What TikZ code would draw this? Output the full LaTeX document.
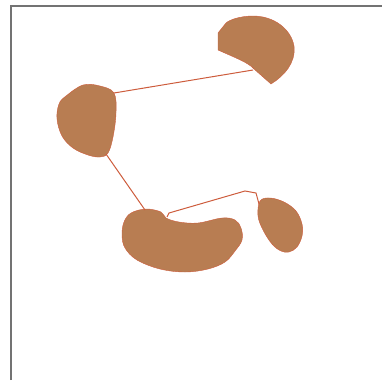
\documentclass[tikz,border=0pt]{standalone}
\usetikzlibrary{calc}
\definecolor{blobfill}{RGB}{184,125,82}
\definecolor{blobedge}{RGB}{205,92,60}
\tikzstyle{blob}=[fill=blobfill,draw=blobedge,line width=0.4pt]
\tikzstyle{link}=[draw=blobedge,line width=1pt]
\tikzstyle{frame}=[draw=gray!90!black,line width=2pt]
\begin{document}
\begin{tikzpicture}[x=1pt,y=-1pt]
	\useasboundingbox (0,0) rectangle (382,380);
	\draw[frame] (11,380) -- (11,6) -- (382,6);
	% pieces
	\draw[blob] (218,33) -- (218,50) .. controls (236,58) and (249,63) .. (254,69)
		-- (271,84) .. controls (284,76) and (296,63) .. (294,46)
		.. controls (291,29) and (274,16) .. (253,16) .. controls (240,16) and (229,20) .. (226,23) -- cycle;
	\draw[blob] plot[smooth cycle,tension=0.6] coordinates {(83,85) (100,86) (114,93) (116,113) (113,137) (108,153) (100,157) (88,155) (73,148) (62,136) (57,119) (59,104) (66,96)};
	\draw[blob] plot[smooth cycle,tension=0.6] coordinates {(131,213) (146,209) (161,212) (166,218) (179,222) (198,223) (222,218) (235,220) (241,228) (242,240) (235,251) (225,262) (208,269) (185,272) (160,269) (137,260) (125,248) (122,235) (124,222)};
	\draw[blob] plot[smooth cycle,tension=0.6] coordinates {(260,201) (270,198) (284,202) (296,211) (302,224) (302,236) (297,247) (289,252) (281,251) (272,244) (263,230) (258,216)};
	% attachment points
	\coordinate (topP) at (253,70);
	\coordinate (leftP) at (114,93);
	\coordinate (leftQ) at (106,154);
	\coordinate (beanP) at (145,210);
	\coordinate (beanQ) at (167,217);
	\coordinate (kinkA) at (169,213);
	\coordinate (kinkB) at (245,191);
	\coordinate (kinkC) at (256,193);
	\coordinate (smallP) at (259,204);
	% links
	\draw[link] (topP) -- (leftP);
	\draw[link] (leftQ) -- (beanP);
	\draw[link] (beanQ) -- (kinkA) -- (kinkB) -- (kinkC) -- (smallP);
\end{tikzpicture}
\end{document}
